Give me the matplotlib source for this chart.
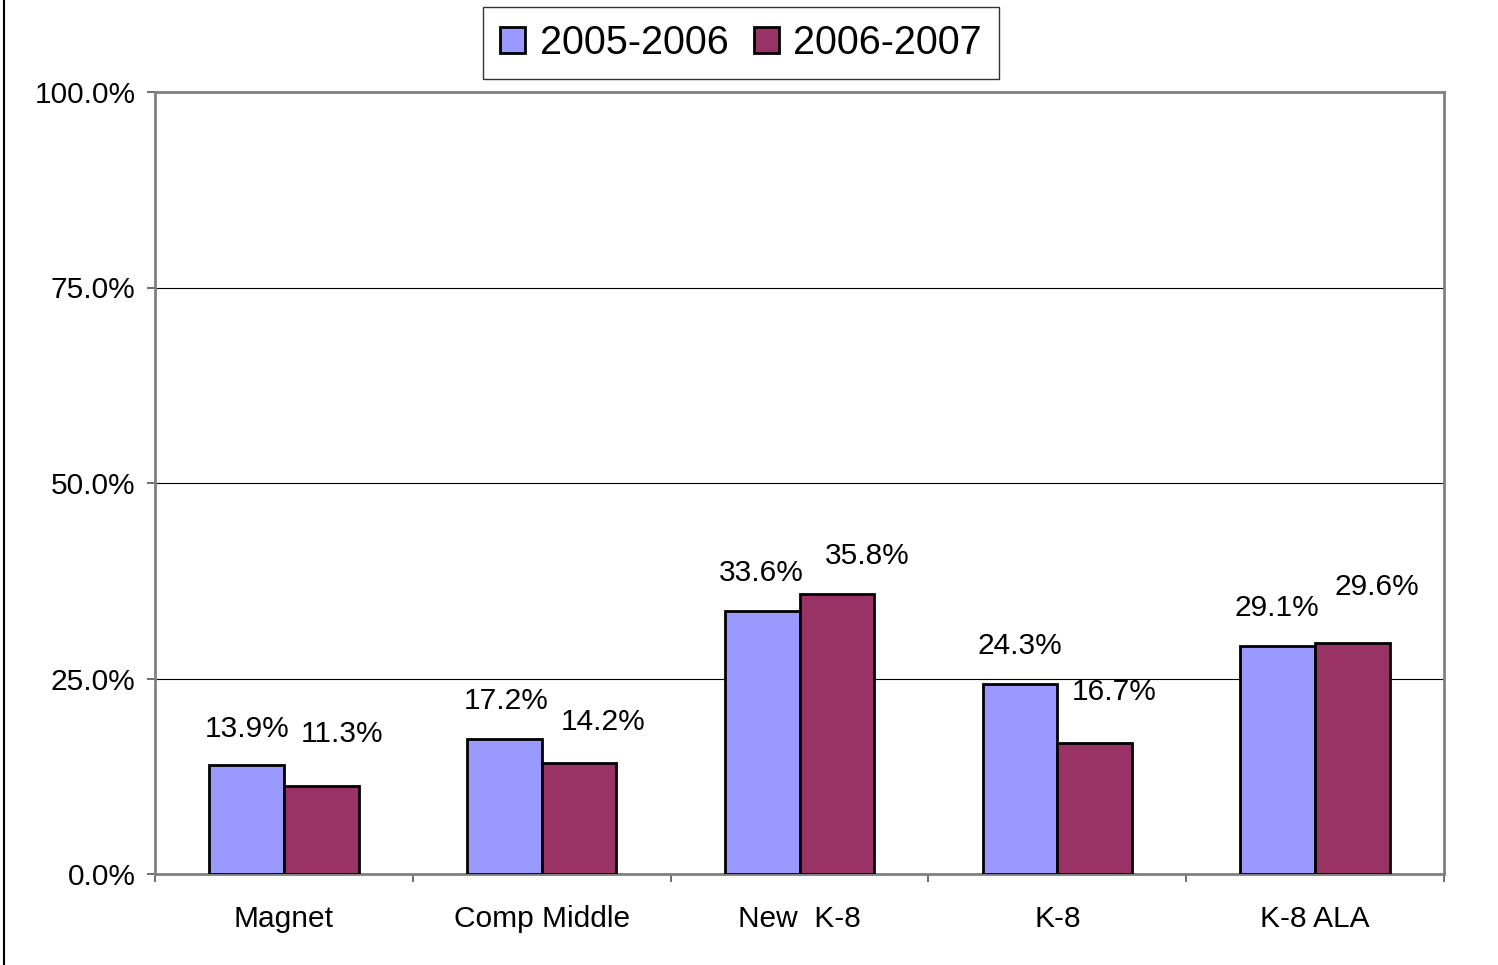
import matplotlib.pyplot as plt
from matplotlib.lines import Line2D
import numpy as np

plt.rcParams['font.family'] = ['Liberation Sans', 'DejaVu Sans']

categories = ["Magnet", "Comp Middle", "New  K-8", "K-8", "K-8 ALA"]
series_names = ["2005-2006", "2006-2007"]
vals_0506 = [13.9, 17.2, 33.6, 24.3, 29.1]
vals_0607 = [11.3, 14.2, 35.8, 16.7, 29.6]
y_ticks = [0, 25, 50, 75, 100]

C_BLUE = "#9999FF"
C_RED = "#993366"

# data label placement (offset in px from bar top centre), as in the original
lab_off_0506 = [(1, 36), (2, 38), (-1, 38), (0, 38), (-1, 38)]
lab_off_0607 = [(21, 52), (24, 41), (30, 38), (20, 51), (24, 56)]

fig = plt.figure(figsize=(14.98, 9.65), dpi=100)
ax = fig.add_axes([155 / 1498, 91 / 965, 1289 / 1498, 782 / 965])

x = np.arange(len(categories))
w = 0.29
b1 = ax.bar(x - w / 2, vals_0506, w, color=C_BLUE, edgecolor="black", lw=2, zorder=3,
            label=series_names[0])
b2 = ax.bar(x + w / 2, vals_0607, w, color=C_RED, edgecolor="black", lw=2, zorder=3,
            label=series_names[1])

FS = 21.5
px = 72 / fig.dpi
for bars, vals, offs in [(b1, vals_0506, lab_off_0506), (b2, vals_0607, lab_off_0607)]:
    for r, v, (dx, dy) in zip(bars, vals, offs):
        ax.annotate(f"{v:.1f}%", xy=(r.get_x() + r.get_width() / 2, v),
                    xytext=(dx * px, dy * px), textcoords="offset points",
                    ha="center", va="center", fontsize=FS)

ax.set_xlim(-0.5, len(categories) - 0.5)
ax.set_ylim(0, 100)
ax.set_yticks(y_ticks)
ax.set_yticklabels([f"{t:.1f}%" for t in y_ticks], fontsize=FS)
ax.yaxis.grid(True, color="black", lw=0.8, zorder=0)

ax.set_xticks(np.arange(-0.5, len(categories), 1.0))
ax.set_xticklabels([])
ax.set_xticks(x, minor=True)
ax.set_xticklabels(categories, minor=True, fontsize=FS)
ax.tick_params(axis="x", which="minor", length=0, pad=22)
ax.tick_params(axis="x", which="major", length=6, width=1.2, color="#555555")
ax.tick_params(axis="y", length=6, width=1.2, color="#555555", pad=8)

for s in ax.spines.values():
    s.set_color("#808080")
    s.set_linewidth(2)

leg = ax.legend(loc="center", bbox_to_anchor=(741 / 1498, 1 - 43 / 965),
                bbox_transform=fig.transFigure, ncol=2, fontsize=28.5, frameon=True,
                fancybox=False, handlelength=0.64, handleheight=0.64, handletextpad=0.36,
                columnspacing=0.64, borderpad=0.44, borderaxespad=0)
leg.get_frame().set_edgecolor("black")
leg.get_frame().set_linewidth(1)

fig.add_artist(Line2D([4 / 1498, 4 / 1498], [0, 1], transform=fig.transFigure,
                      color="black", lw=1.5))

fig.savefig("out.png", dpi=100)
